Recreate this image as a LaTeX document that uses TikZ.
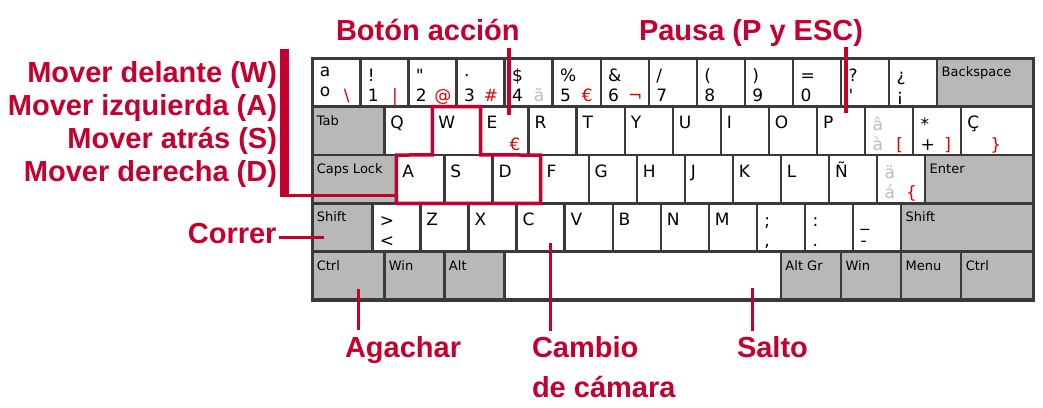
\documentclass[tikz,border=0pt]{standalone}
\usepackage{fontspec}
\usetikzlibrary{calc}
\newfontfamily\keyfont{DejaVu Sans}[Ligatures=TeXOff]
\newfontfamily\labfont{Liberation Sans}
\definecolor{kline}{HTML}{3A3A3A}
\definecolor{kgray}{HTML}{B8B8B8}
\definecolor{labc}{HTML}{C5002F}
\definecolor{altr}{HTML}{E00000}
\definecolor{dead}{HTML}{BCBCC6}
\tikzset{
  key/.style={draw=kline, line width=2.4pt, fill=white, inner sep=0pt, outer sep=0pt, minimum height=48.34pt},
  gkey/.style={fill=kgray},
  klab/.style={font=\keyfont\fontsize{17}{17}\selectfont, inner sep=0pt, outer sep=0pt},
  mlab/.style={font=\keyfont\fontsize{13}{13}\selectfont, inner sep=0pt, outer sep=0pt},
  lbl/.style={font=\labfont\bfseries\fontsize{29}{33}\selectfont, text=labc, inner sep=0pt, outer sep=0pt},
  conn/.style={draw=labc, line width=3.5pt},
}
\newcommand\rowat[1]{\xdef\kx{312.3}\xdef\ky{#1}}
\newcommand\K[3]{%
  \node[key,#3,minimum width=#2*48.07pt,anchor=north west] (#1) at (\kx,\ky) {};%
  \xdef\kid{#1}%
  \pgfmathsetmacro\kxnew{\kx+#2*48.07}\xdef\kx{\kxnew}}
\newcommand\kU[2][black]{\node[klab,text=#1,anchor=base west] (\kid-u) at ($(\kid.north west)+(7.5,23.5)$) {#2};}
\newcommand\kD[2][black]{\node[klab,text=#1,anchor=base west] (\kid-d) at ($(\kid.north west)+(7.5,43.5)$) {#2};}
\newcommand\kR[2][altr]{\node[klab,text=#1,anchor=base] (\kid-r) at ($(\kid.north west)+(34.5,43.5)$) {#2};}
\newcommand\kB[1]{\node[klab,anchor=base west] (\kid-b) at ($(\kid.north west)+(6,22)$) {#1};}
\newcommand\kM[1]{\node[mlab,anchor=base west] (\kid-m) at ($(\kid.north west)+(4.5,18.5)$) {#1};}
\begin{document}
\begin{tikzpicture}[x=1pt,y=-1pt]
\fill[white] (0,0) rectangle (1043,407);
\useasboundingbox (0,0) rectangle (1043,407);
% ---- row 1
\rowat{58.3}
\K{kO}{1}{}
\node[klab,anchor=base west] (kO-u) at ($(kO.north west)+(7.5,18)$) {a};
\node[klab,anchor=base west] (kO-d) at ($(kO.north west)+(7.5,38.5)$) {o};
\kR{\textbackslash}
\K{k1}{1}{}\kU{!}\kD{1}\kR{|}
\K{k2}{1}{}\kU{"}\kD{2}\kR{@}
\K{k3}{1}{}\kU{·}\kD{3}\kR{\#}
\K{k4}{1}{}\kU{\$}\kD{4}\kR[dead]{ã}
\K{k5}{1}{}\kU{\%}\kD{5}\kR{€}
\K{k6}{1}{}\kU{\&}\kD{6}\kR{¬}
\K{k7}{1}{}\kU{/}\kD{7}
\K{k8}{1}{}\kU{(}\kD{8}
\K{k9}{1}{}\kU{)}\kD{9}
\K{k0}{1}{}\kU{=}\kD{0}
\K{kq}{1}{}\kU{?}\kD{'}
\K{ki}{1}{}\kU{¿}\kD{¡}
\K{kbs}{2}{gkey}\kM{Backspace}
% ---- row 2
\rowat{106.65}
\K{kTab}{1.5}{gkey}\kM{Tab}
\K{kQ}{1}{}\kB{Q}
\K{kW}{1}{}\kB{W}
\K{kE}{1}{}\kB{E}\kR{€}
\K{kR}{1}{}\kB{R}
\K{kT}{1}{}\kB{T}
\K{kY}{1}{}\kB{Y}
\K{kUu}{1}{}\kB{U}
\K{kI}{1}{}\kB{I}
\K{kOo}{1}{}\kB{O}
\K{kP}{1}{}\kB{P}
\K{kac}{1}{}\kU[dead]{â}\kD[dead]{à}\kR{[}
\K{kpl}{1}{}\kU{*}\kD{+}\kR{]}
\K{kCc}{1.5}{}\kB{Ç}\kR{\}}
% ---- row 3
\rowat{155}
\K{kCaps}{1.75}{gkey}\kM{Caps Lock}
\K{kA}{1}{}\kB{A}
\K{kS}{1}{}\kB{S}
\K{kDd}{1}{}\kB{D}
\K{kF}{1}{}\kB{F}
\K{kG}{1}{}\kB{G}
\K{kH}{1}{}\kB{H}
\K{kJ}{1}{}\kB{J}
\K{kK}{1}{}\kB{K}
\K{kL}{1}{}\kB{L}
\K{kN}{1}{}\kB{Ñ}
\K{kdi}{1}{}\kU[dead]{ä}\kD[dead]{á}\kR{\{}
\K{kEnt}{2.25}{gkey}\kM{Enter}
% ---- row 4
\rowat{203.3}
\K{kLSh}{1.25}{gkey}\kM{Shift}
\K{klt}{1}{}\kU{>}\kD{<}
\K{kZ}{1}{}\kB{Z}
\K{kX}{1}{}\kB{X}
\K{kC}{1}{}\kB{C}
\K{kV}{1}{}\kB{V}
\K{kBb}{1}{}\kB{B}
\K{kNn}{1}{}\kB{N}
\K{kM}{1}{}\kB{M}
\K{ksc}{1}{}\kU{;}\kD{,}
\K{kco}{1}{}\kU{:}\kD{.}
\K{kus}{1}{}\kU{\_}\kD{-}
\K{kRSh}{2.75}{gkey}\kM{Shift}
% ---- row 5
\rowat{251.65}
\K{kLCtrl}{1.5}{gkey}\kM{Ctrl}
\K{kLWin}{1.25}{gkey}\kM{Win}
\K{kLAlt}{1.25}{gkey}\kM{Alt}
\K{kSp}{5.75}{}
\K{kAltGr}{1.25}{gkey}\kM{Alt Gr}
\K{kRWin}{1.25}{gkey}\kM{Win}
\K{kMenu}{1.25}{gkey}\kM{Menu}
\K{kRCtrl}{1.5}{gkey}\kM{Ctrl}
% ---- outer frame
\node[draw=kline, line width=3.5pt, inner sep=0pt, outer sep=0pt, minimum width=721.05pt, minimum height=241.7pt, anchor=north west] (kbd) at (312.3,58.3) {};
% ---- WASD outline
\draw[labc, line width=3.5pt, line join=miter] (kW.north west) -- (kW.north east) -- (kW.south east) -- (kDd.north east) -- (kDd.south east) -- (kA.south west) -- (kA.north west) -- (kW.south west) -- cycle;
% ---- labels
\node[lbl, anchor=base east] (mov) at (277,82.7) {\begin{tabular}[t]{@{}r@{}}Mover delante (W)\\Mover izquierda (A)\\Mover atrás (S)\\Mover derecha (D)\end{tabular}};
\node[lbl, anchor=base east] (corr) at (276.5,243) {Correr};
\node[lbl, anchor=base west] (bot) at (336,40.2) {Botón acción};
\node[lbl, anchor=base west] (pau) at (639,40.2) {Pausa (P y ESC)};
\node[lbl, anchor=base west] (aga) at (345,357) {Agachar};
\node[lbl, anchor=base west] (camb) at (532,357) {\fontsize{29}{40}\selectfont\begin{tabular}[t]{@{}l@{}}Cambio\\de cámara\end{tabular}};
\node[lbl, anchor=base west] (sal) at (737,357) {Salto};
% ---- connectors
\coordinate (mbT) at (284.7,49.3);
\coordinate (mbB) at (284.7,197.3);
\coordinate (mj) at (284.7,195.7);
\draw[conn, line width=9pt] (mbT) -- (mbB);
\draw[conn] (mj) -- (mj -| kA.west);
\coordinate (shIn) at (324,237.5);
\draw[conn] ($(corr.east |- shIn)+(2,0)$) -- (shIn);
\coordinate (bIn) at (509,115);
\draw[conn] ($(bot.base -| bIn)+(0,7.6)$) -- (bIn);
\coordinate (pIn) at (846,113);
\draw[conn] ($(pau.base -| pIn)+(0,7)$) -- (pIn);
\coordinate (aIn) at (358.5,289);
\draw[conn] (aIn) -- ($(aga.base -| aIn)+(0,-27)$);
\coordinate (cIn) at (550.5,243);
\draw[conn] (cIn) -- ($(camb.base -| cIn)+(0,-26)$);
\coordinate (sIn) at (752.7,288.3);
\draw[conn] (sIn) -- ($(sal.base -| sIn)+(0,-26)$);
\end{tikzpicture}
\end{document}
